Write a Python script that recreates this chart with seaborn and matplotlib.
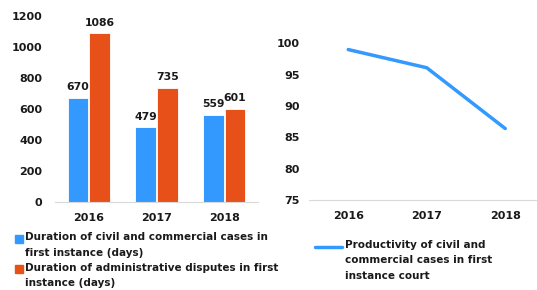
import matplotlib
matplotlib.use("Agg")
import matplotlib.pyplot as plt
import seaborn as sns
import pandas as pd
from matplotlib.lines import Line2D

years = ["2016", "2017", "2018"]
civil_days = [670, 479, 559]
admin_days = [1086, 735, 601]
productivity = [99.0, 96.1, 86.4]
series_names = ["Duration of civil and commercial cases in\nfirst instance (days)",
                "Duration of administrative disputes in first\ninstance (days)"]
line_name = "Productivity of civil and\ncommercial cases in first\ninstance court"

blue = "#3399FF"
orange = "#E8501A"

sns.set_theme(style="white")
plt.rcParams['font.family'] = ['DejaVu Sans']
plt.rcParams['font.weight'] = 'bold'

fig = plt.figure(figsize=(5.37, 2.90), dpi=100)
ax1 = fig.add_axes([55/537, 1-201.7/290, (258-55)/537, (201.7-15.7)/290])
ax2 = fig.add_axes([309/537, 1-200/290, (544.5-309)/537, (200-43.3)/290])

df = pd.DataFrame({
    "year": years * 2,
    "value": civil_days + admin_days,
    "series": [series_names[0]] * 3 + [series_names[1]] * 3,
})
sns.barplot(data=df, x="year", y="value", hue="series", palette=[blue, orange],
            saturation=1, width=0.64, gap=0.05, ax=ax1, legend=False,
            edgecolor="white", linewidth=0.6)
for c in ax1.containers:
    ax1.bar_label(c, padding=4, fontsize=7.8, fontweight="bold", color="#1a1a1a")
ax1.set_ylim(0, 1200)
ax1.set_yticks(range(0, 1201, 200))
ax1.set_xlim(-0.5, 2.5)
ax1.set_xlabel("")
ax1.set_ylabel("")

ldf = pd.DataFrame({"year": years, "value": productivity})
sns.lineplot(data=ldf, x="year", y="value", ax=ax2, color=blue, linewidth=2.5)
ax2.set_ylim(75, 100)
ax2.set_yticks(range(75, 101, 5))
ax2.set_xlim(-0.5, 2.5)
ax2.set_xlabel("")
ax2.set_ylabel("")

for ax, ypad in ((ax1, 9), (ax2, 6.5)):
    for s in ["top", "right", "left"]:
        ax.spines[s].set_visible(False)
    ax.spines["bottom"].set_color("#d9d9d9")
    ax.spines["bottom"].set_linewidth(0.8)
    ax.tick_params(axis="both", length=0, labelsize=8, colors="#1a1a1a")
    ax.tick_params(axis="y", pad=ypad)
    ax.tick_params(axis="x", pad=8)
    for t in ax.get_xticklabels() + ax.get_yticklabels():
        t.set_fontweight("bold")

h1 = [Line2D([0], [0], color=c, marker="s", markersize=5.2, linestyle="none")
      for c in (blue, orange)]
leg1 = fig.legend(h1, series_names, loc="upper left", bbox_to_anchor=(15/537, 1-229/290),
                  frameon=False, handlelength=0.8, handleheight=4.78,
                  handletextpad=0.2, labelspacing=-0.43, borderaxespad=0, borderpad=0,
                  prop={"weight": "bold", "size": 7.5})
for t in leg1.get_texts():
    t.set_linespacing(1.7)
    t.set_color("#1a1a1a")

h2 = [Line2D([0], [0], color=blue, linewidth=2.5)]
leg2 = fig.legend(h2, [line_name], loc="upper left", bbox_to_anchor=(315/537, 1-230/290),
                  frameon=False, handlelength=2.6, handleheight=9.37, handletextpad=0.3,
                  borderaxespad=0, borderpad=0,
                  prop={"weight": "bold", "size": 7.5})
for t in leg2.get_texts():
    t.set_linespacing(1.7)
    t.set_color("#1a1a1a")

fig.savefig("out.png", dpi=100)
